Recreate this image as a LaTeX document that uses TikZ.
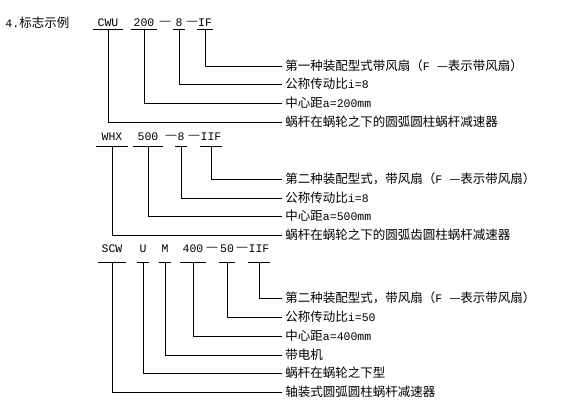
\documentclass[tikz,border=0pt]{standalone}
\usepackage{fontspec}
\newfontfamily\cjk{Noto Sans CJK SC}
\newfontfamily\codefont{Liberation Mono}
\newfontfamily\dashfont{Liberation Sans}
\newcommand{\latn}[1]{{\codefont\fontsize{11.5}{13}\selectfont #1}}

\begin{document}
\begin{tikzpicture}[x=1pt,y=-1pt,line width=0.9pt,
    code/.style={font=\codefont\fontsize{11.5}{13}\selectfont, minimum width=#1, inner xsep=0pt, text height=7pt, text depth=0pt},
    link/.style={font=\dashfont\fontsize{11}{13}\selectfont, inner sep=0pt},
    note/.style={anchor=west, inner xsep=3pt, inner ysep=0pt, font=\cjk\fontsize{12.5}{15}\selectfont}]
    \useasboundingbox (0,0) rectangle (561,402);

    \node[anchor=west, inner sep=0pt, font=\cjk\fontsize{12.5}{15}\selectfont] (title) at (5,23) {\latn{4.}标志示例};

    % CWU 200-8-IF
    \begin{scope}[inner ysep=2.5pt]
        \node[code=30] (cwu) at (108,23) {CWU};
        \node[code=26] (cwuA) at (144,23) {200};
        \node[link] (cwuD1) at (165,23) {—};
        \node[code=11] (cwuI) at (179,23) {8};
        \node[link] (cwuD2) at (192,23) {—};
        \node[code=15] (cwuF) at (205,23) {IF};
    \end{scope}
    \node[note] (cwuFn) at (282,66) {第一种装配型式带风扇（\latn{F }—表示带风扇）};
    \node[note] (cwuIn) at (282,84) {公称传动比\latn{i=8}};
    \node[note] (cwuAn) at (282,103) {中心距\latn{a=200mm}};
    \node[note] (cwun) at (282,122) {蜗杆在蜗轮之下的圆弧圆柱蜗杆减速器};

    % WHX 500-8-IIF
    \begin{scope}[inner ysep=5.5pt]
        \node[code=31] (whx) at (112,137) {WHX};
        \node[code=29] (whxA) at (148,137) {500};
        \node[link] (whxD1) at (171,137) {—};
        \node[code=11] (whxI) at (181,137) {8};
        \node[link] (whxD2) at (194,137) {—};
        \node[code=18] (whxF) at (211,137) {IIF};
    \end{scope}
    \node[note] (whxFn) at (282,179) {第二种装配型式，带风扇（\latn{F }—表示带风扇）};
    \node[note] (whxIn) at (282,198) {公称传动比\latn{i=8}};
    \node[note] (whxAn) at (282,216) {中心距\latn{a=500mm}};
    \node[note] (whxn) at (282,235) {蜗杆在蜗轮之下的圆弧齿圆柱蜗杆减速器};

    % SCW U M 400-50-IIF
    \begin{scope}[inner ysep=9.5pt]
        \node[code=28] (scw) at (112,249) {SCW};
        \node[code=11] (scwU) at (143,249) {U};
        \node[code=12] (scwM) at (165,249) {M};
        \node[code=25] (scwA) at (193,249) {400};
        \node[link] (scwD1) at (212,249) {—};
        \node[code=16] (scwI) at (227,249) {50};
        \node[link] (scwD2) at (242,249) {—};
        \node[code=19] (scwF) at (259,249) {IIF};
    \end{scope}
    \node[note] (scwFn) at (282,298) {第二种装配型式，带风扇（\latn{F }—表示带风扇）};
    \node[note] (scwIn) at (282,317) {公称传动比\latn{i=50}};
    \node[note] (scwAn) at (282,336) {中心距\latn{a=400mm}};
    \node[note] (scwMn) at (282,355) {带电机};
    \node[note] (scwUn) at (282,373) {蜗杆在蜗轮之下型};
    \node[note] (scwn) at (282,392) {轴装式圆弧圆柱蜗杆减速器};

    \foreach \p in {cwu,cwuA,cwuI,cwuF,whx,whxA,whxI,whxF,scw,scwU,scwM,scwA,scwI,scwF}
        \draw (\p.south west) -- (\p.south east) (\p.south) |- (\p n.west);
\end{tikzpicture}
\end{document}
